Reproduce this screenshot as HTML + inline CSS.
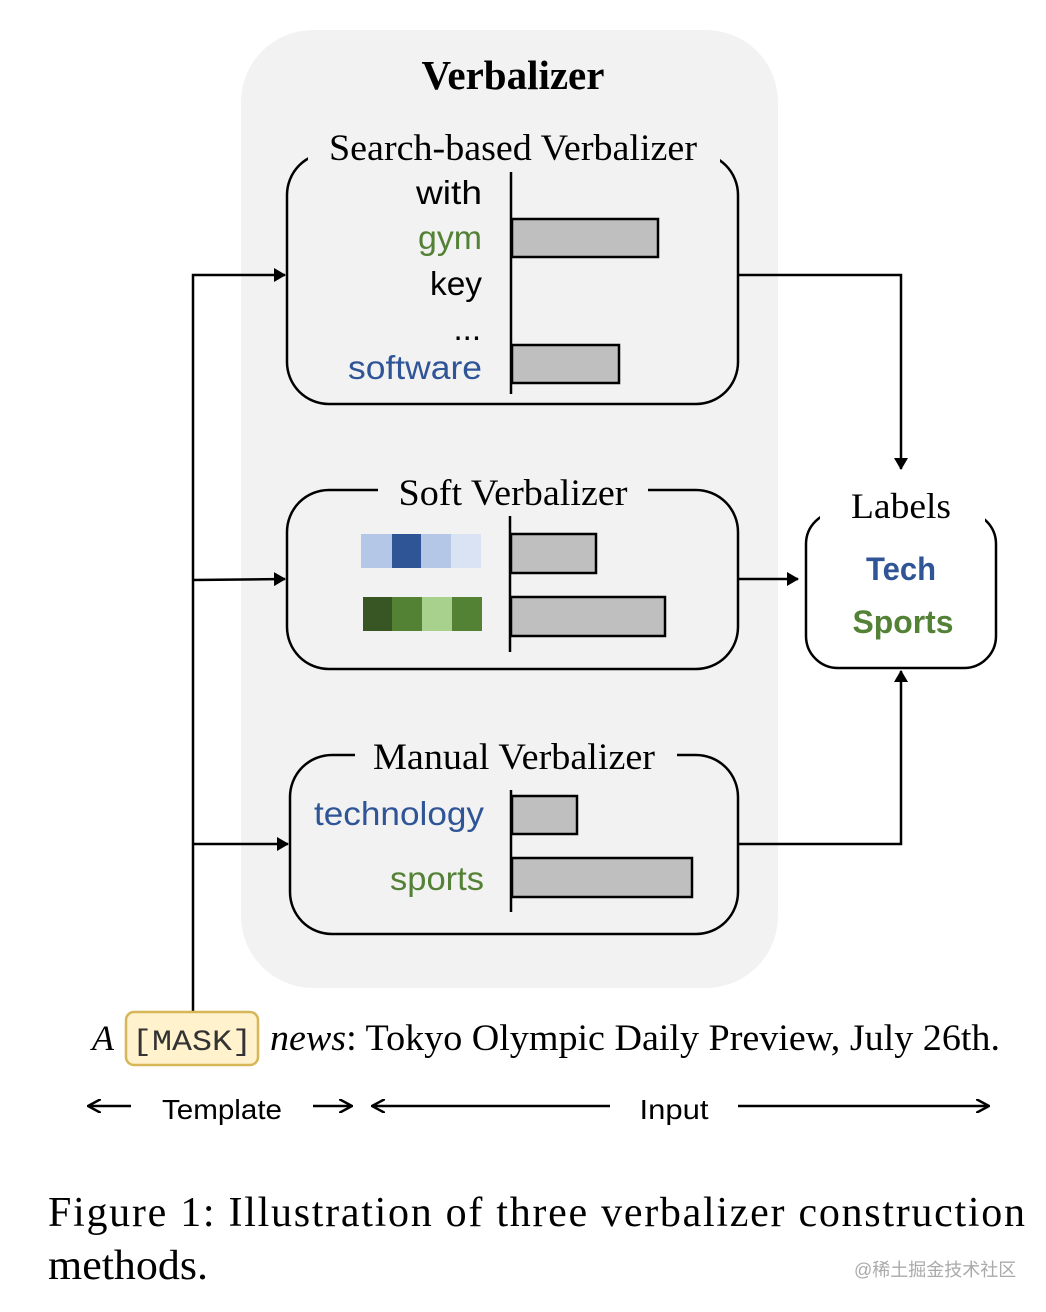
<!DOCTYPE html>
<html><head><meta charset="utf-8"><style>
body{margin:0;background:#fff;}
svg{display:block}
.serif{font-family:"Liberation Serif",serif;}
.sans{font-family:"Liberation Sans",sans-serif;}
</style></head><body>
<svg width="1046" height="1312" viewBox="0 0 1046 1312" xmlns="http://www.w3.org/2000/svg">
<defs>
<marker id="a" markerWidth="12" markerHeight="14" refX="11" refY="7" orient="auto" markerUnits="userSpaceOnUse"><path d="M0,0 L12,7 L0,14 z" fill="#000"/></marker>
<marker id="b" markerWidth="14" markerHeight="14" refX="13" refY="7" orient="auto" markerUnits="userSpaceOnUse"><path d="M0,0 L13,7 L0,14" fill="none" stroke="#000" stroke-width="2.5"/></marker>
</defs>
<rect x="241" y="30" width="537" height="958" rx="72" fill="#f2f2f2"/>
<text x="513" y="89" text-anchor="middle" class="serif" font-size="41" font-weight="bold">Verbalizer</text>

<!-- Box1 -->
<rect x="287" y="153" width="451" height="251" rx="42" fill="none" stroke="#000" stroke-width="2.5"/>
<rect x="308" y="140" width="412" height="26" fill="#f2f2f2"/>
<text x="513" y="160" text-anchor="middle" class="serif" font-size="37" textLength="368" lengthAdjust="spacingAndGlyphs">Search-based Verbalizer</text>
<g class="sans" font-size="33" text-anchor="end">
<text x="482" y="204" textLength="66" lengthAdjust="spacingAndGlyphs">with</text>
<text x="482" y="249" fill="#538135" textLength="64" lengthAdjust="spacingAndGlyphs">gym</text>
<text x="482" y="295" textLength="52" lengthAdjust="spacingAndGlyphs">key</text>
<text x="481" y="340">...</text>
<text x="482" y="379" fill="#2f5597" textLength="134" lengthAdjust="spacingAndGlyphs">software</text>
</g>
<line x1="511" y1="172" x2="511" y2="394" stroke="#000" stroke-width="2.5"/>
<rect x="512" y="219" width="146" height="38" fill="#bfbfbf" stroke="#000" stroke-width="2.5"/>
<rect x="512" y="345" width="107" height="38" fill="#bfbfbf" stroke="#000" stroke-width="2.5"/>

<!-- Box2 -->
<rect x="287" y="490" width="451" height="179" rx="42" fill="none" stroke="#000" stroke-width="2.5"/>
<rect x="378" y="478" width="270" height="26" fill="#f2f2f2"/>
<text x="513" y="505" text-anchor="middle" class="serif" font-size="37" textLength="229" lengthAdjust="spacingAndGlyphs">Soft Verbalizer</text>
<rect x="361" y="534" width="31" height="34" fill="#b4c7e7"/>
<rect x="392" y="534" width="29" height="34" fill="#2f5597"/>
<rect x="421" y="534" width="30" height="34" fill="#b4c7e7"/>
<rect x="451" y="534" width="30" height="34" fill="#dae3f3"/>
<rect x="363" y="597" width="29" height="34" fill="#375623"/>
<rect x="392" y="597" width="30" height="34" fill="#548235"/>
<rect x="422" y="597" width="30" height="34" fill="#a9d18e"/>
<rect x="452" y="597" width="30" height="34" fill="#548235"/>
<line x1="510" y1="516" x2="510" y2="652" stroke="#000" stroke-width="2.5"/>
<rect x="511" y="534" width="85" height="39" fill="#bfbfbf" stroke="#000" stroke-width="2.5"/>
<rect x="511" y="597" width="154" height="39" fill="#bfbfbf" stroke="#000" stroke-width="2.5"/>

<!-- Box3 -->
<rect x="290" y="755" width="448" height="179" rx="42" fill="none" stroke="#000" stroke-width="2.5"/>
<rect x="355" y="742" width="322" height="26" fill="#f2f2f2"/>
<text x="514" y="769" text-anchor="middle" class="serif" font-size="37" textLength="282" lengthAdjust="spacingAndGlyphs">Manual Verbalizer</text>
<g class="sans" font-size="33" text-anchor="end">
<text x="484" y="825" fill="#2f5597" textLength="170" lengthAdjust="spacingAndGlyphs">technology</text>
<text x="484" y="890" fill="#538135" textLength="94" lengthAdjust="spacingAndGlyphs">sports</text>
</g>
<line x1="511" y1="790" x2="511" y2="912" stroke="#000" stroke-width="2.5"/>
<rect x="512" y="796" width="65" height="38" fill="#bfbfbf" stroke="#000" stroke-width="2.5"/>
<rect x="512" y="858" width="180" height="39" fill="#bfbfbf" stroke="#000" stroke-width="2.5"/>

<!-- Labels -->
<rect x="806" y="512" width="190" height="156" rx="32" fill="none" stroke="#000" stroke-width="2.5"/>
<rect x="820" y="498" width="165" height="28" fill="#fff"/>
<text x="901" y="518" text-anchor="middle" class="serif" font-size="36" textLength="100" lengthAdjust="spacingAndGlyphs">Labels</text>
<text x="901" y="580" text-anchor="middle" class="sans" font-size="32" font-weight="bold" fill="#2f5597" textLength="70" lengthAdjust="spacingAndGlyphs">Tech</text>
<text x="903" y="633" text-anchor="middle" class="sans" font-size="32" font-weight="bold" fill="#538135" textLength="101" lengthAdjust="spacingAndGlyphs">Sports</text>

<!-- connectors -->
<g stroke="#000" stroke-width="2.5" fill="none">
<polyline points="193,1012 193,275 285,275" marker-end="url(#a)"/>
<line x1="193" y1="580" x2="285" y2="579" marker-end="url(#a)"/>
<line x1="193" y1="844" x2="288" y2="844" marker-end="url(#a)"/>
<polyline points="738,275 901,275 901,469" marker-end="url(#a)"/>
<line x1="738" y1="579" x2="798" y2="579" marker-end="url(#a)"/>
<polyline points="738,844 901,844 901,671" marker-end="url(#a)"/>
</g>

<!-- sentence -->
<rect x="126" y="1012" width="132" height="53" rx="8" fill="#fff2cc" stroke="#d6b656" stroke-width="2.5"/>
<text x="92" y="1050" class="serif" font-size="36" font-style="italic">A</text>
<text x="192" y="1050" text-anchor="middle" font-family="Liberation Mono,monospace" font-size="30" fill="#333" textLength="120" lengthAdjust="spacingAndGlyphs">[MASK]</text>
<text x="270" y="1050" class="serif" font-size="37" textLength="730" lengthAdjust="spacingAndGlyphs"><tspan font-style="italic">news</tspan>: Tokyo Olympic Daily Preview, July 26th.</text>

<g stroke="#000" stroke-width="2.5" fill="none">
<line x1="131" y1="1106" x2="88" y2="1106" marker-end="url(#b)"/>
<line x1="313" y1="1106" x2="352" y2="1106" marker-end="url(#b)"/>
<line x1="610" y1="1106" x2="372" y2="1106" marker-end="url(#b)"/>
<line x1="738" y1="1106" x2="989" y2="1106" marker-end="url(#b)"/>
</g>
<text x="222" y="1119" text-anchor="middle" class="sans" font-size="28" textLength="120" lengthAdjust="spacingAndGlyphs">Template</text>
<text x="674" y="1119" text-anchor="middle" class="sans" font-size="28" textLength="69" lengthAdjust="spacingAndGlyphs">Input</text>

<text x="48" y="1226" class="serif" font-size="42" textLength="977" lengthAdjust="spacing">Figure 1: Illustration of three verbalizer construction</text>
<text x="48" y="1279" class="serif" font-size="42" textLength="160" lengthAdjust="spacingAndGlyphs">methods.</text>
<text x="854" y="1276" font-family="Liberation Sans,Noto Sans CJK SC,sans-serif" font-size="18" fill="#aaa">@稀土掘金技术社区</text>
</svg>
</body></html>
